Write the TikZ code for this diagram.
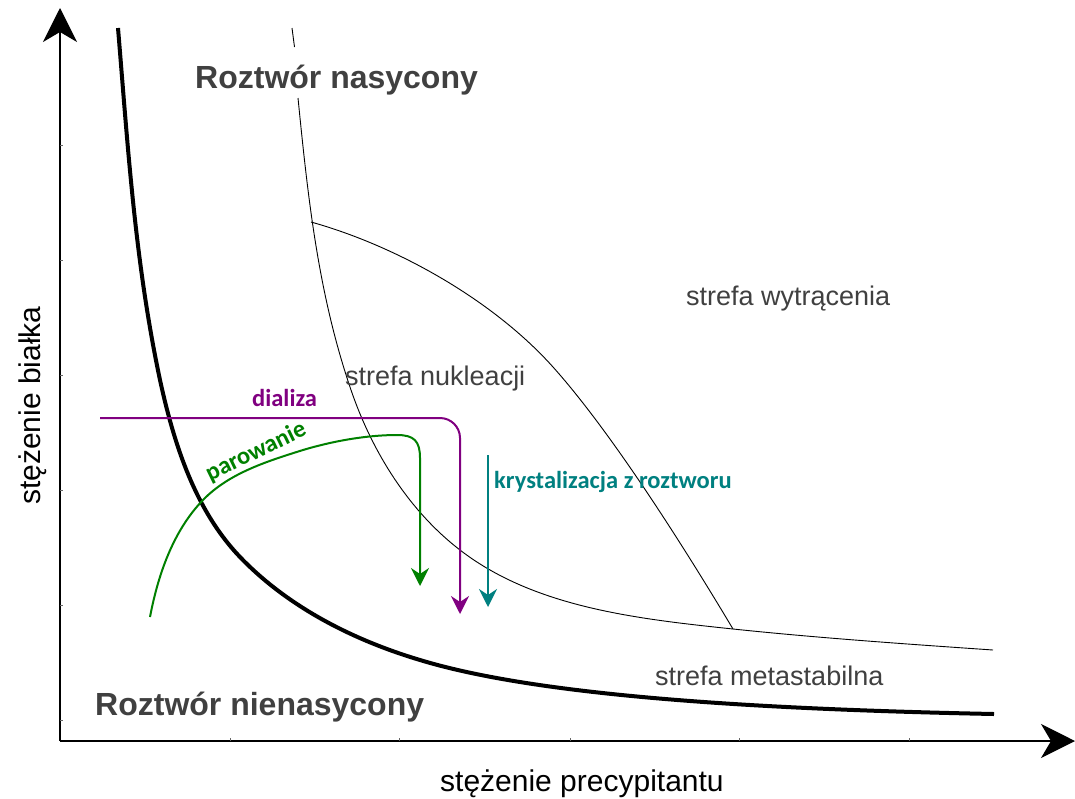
\documentclass[tikz,border=0pt]{standalone}
\usepackage{fontspec}
\setmainfont{Liberation Sans}
\newfontfamily\calib{Carlito}
\usetikzlibrary{arrows.meta}
\definecolor{dpurple}{RGB}{128,0,128}
\definecolor{dgreen}{RGB}{0,128,0}
\definecolor{dteal}{RGB}{0,128,128}
\definecolor{dgray}{RGB}{64,64,64}
\begin{document}
\begin{tikzpicture}[x=1pt,y=-1pt,
  axis/.style={line width=1.2pt,-{Stealth[length=34pt,width=34pt,inset=10pt]}},
  tick/.style={line width=0.8pt,black!60},
  thick curve/.style={line width=4pt,line join=round},
  thin curve/.style={line width=0.9pt},
  proc/.style={line width=2pt,-{Stealth[length=18pt,width=18pt,inset=6pt]}},
  biglabel/.style={inner sep=0pt,anchor=base west,text=dgray,font=\fontsize{32}{38}\selectfont\bfseries},
  zonelabel/.style={inner sep=0pt,anchor=base west,text=dgray,font=\fontsize{27}{32}\selectfont},
  axislabel/.style={inner sep=0pt,anchor=base west,text=black,font=\fontsize{30}{36}\selectfont},
  proclabel/.style={inner sep=0pt,font=\calib\fontsize{24.5}{28}\selectfont\bfseries}]
\useasboundingbox (0,0) rectangle (1075,798);
% axes
\coordinate (O) at (60,741);
\coordinate (Ytip) at (60,8);
\coordinate (Xtip) at (1075,741);
\draw[axis] (O) -- (Ytip);
\draw[axis] (O) -- (Xtip);
\foreach \yy in {145,260,375,490,605,720} \draw[tick] (60,\yy) -- (63,\yy);
\foreach \xx in {230,399,570,739,909} \draw[tick] (\xx,741) -- (\xx,738);
% solubility curve
\draw[thick curve] (118,28) .. controls (128,148) and (135,262) .. (160,380)
  .. controls (174,444) and (195,510) .. (240,557)
  .. controls (288,607) and (353,640) .. (420,660)
  .. controls (535,695) and (744,709) .. (994,714);
% nucleation boundary
\draw[thin curve] (292,28) -- (294.5,47);
\draw[thin curve] (298,98) .. controls (308,198) and (318,292) .. (350,387)
  .. controls (371,450) and (408,510) .. (460,550)
  .. controls (535,608) and (639,619) .. (733,629)
  .. controls (819,638) and (906,644) .. (993,650);
% precipitation boundary
\draw[thin curve] (311,222) .. controls (397,246) and (493,300) .. (553,367)
  .. controls (613,434) and (687,552) .. (733,629);
% processes
\coordinate (dS) at (100,418);
\coordinate (dC) at (460,418);
\coordinate (dE) at (460,614);
\draw[proc,dpurple,rounded corners=20pt] (dS) -- (dC) -- (dE);
\coordinate (pS) at (150,617);
\coordinate (pE) at (420,586);
\draw[proc,dgreen] (pS) .. controls (158,575) and (173,531) .. (203,500)
  .. controls (229,473) and (268,461) .. (303,450)
  .. controls (333,441) and (367,435) .. (397,435)
  .. controls (414,435) and (420,441) .. (420,458) -- (pE);
\coordinate (kS) at (488,455);
\coordinate (kE) at (488,607);
\draw[proc,dteal] (kS) -- (kE);
% labels
\node[biglabel] (nas) at (195,88) {Roztwór nasycony};
\node[biglabel] (nienas) at (95,715) {Roztwór nienasycony};
\node[zonelabel] (wytr) at (686,305) {strefa wytrącenia};
\node[zonelabel] (nukl) at (345,385) {strefa nukleacji};
\node[zonelabel] (meta) at (655,685) {strefa metastabilna};
\node[axislabel] (xl) at (440,791) {stężenie precypitantu};
\node[axislabel,rotate=90] (yl) at (40,505) {stężenie białka};
\node[proclabel,anchor=base west,text=dpurple] (dl) at (252,406) {dializa};
\node[proclabel,anchor=base west,text=dteal] (kl) at (494,488) {krystalizacja z roztworu};
\node[proclabel,text=dgreen,rotate=26] (pl) at (256,452) {parowanie};
\end{tikzpicture}
\end{document}
